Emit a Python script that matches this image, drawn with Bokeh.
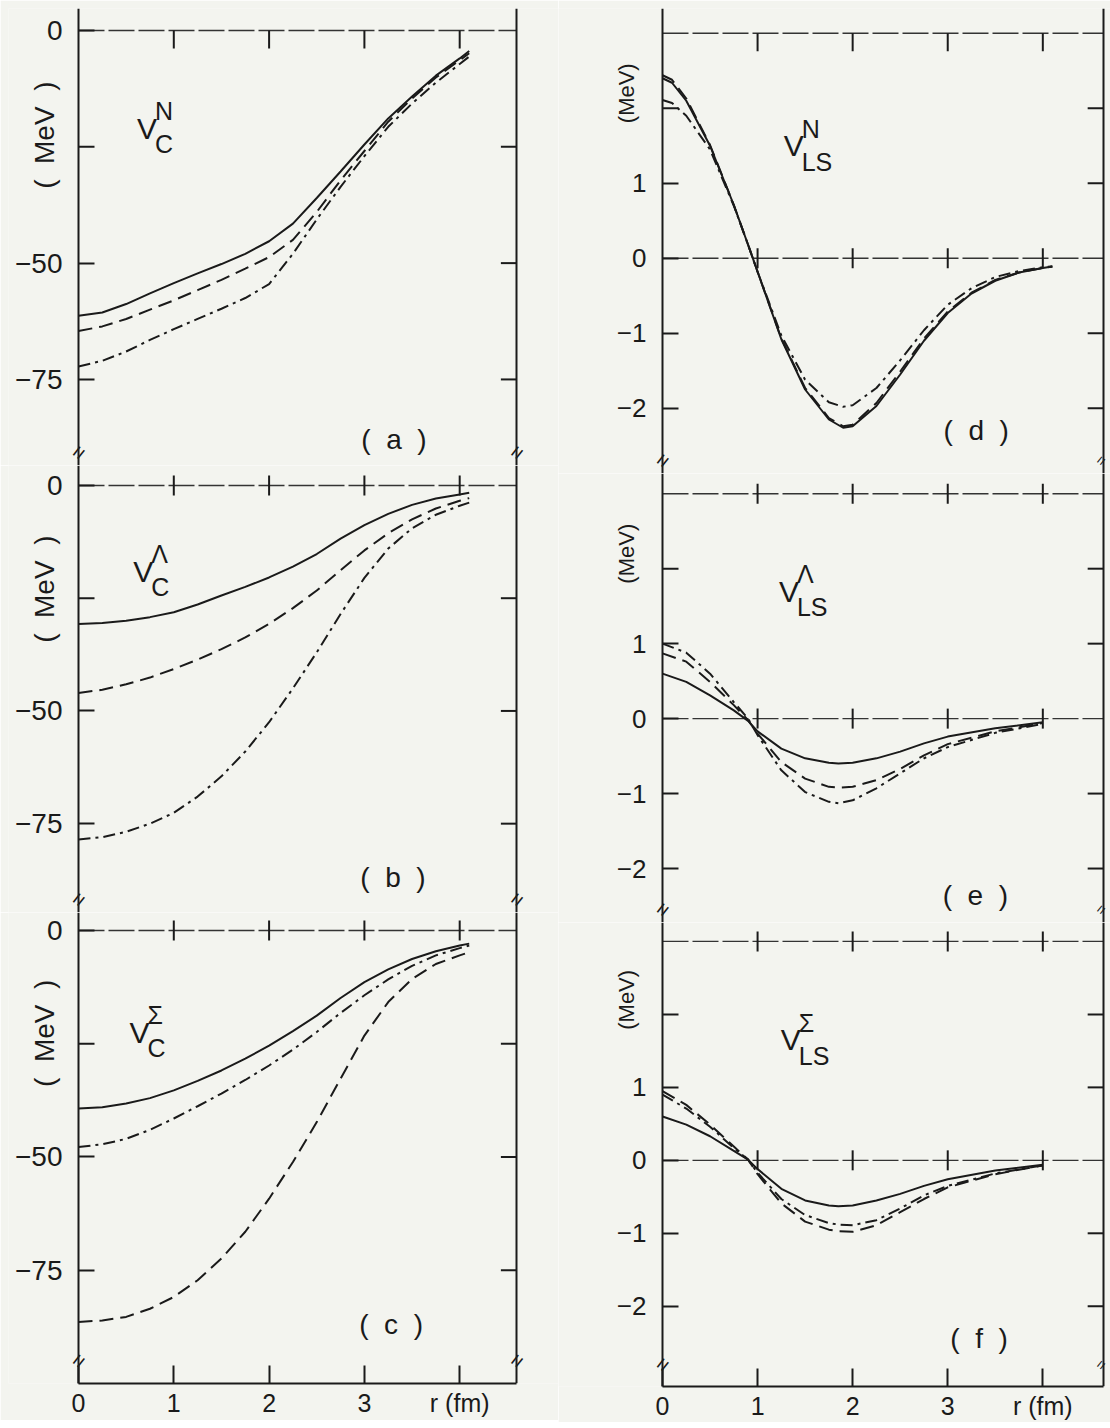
import math
from bokeh.plotting import figure
from bokeh.layouts import row, column
from bokeh.models import Range1d, LinearAxis, FixedTicker, Label
from bokeh.embed import file_html
from bokeh.resources import INLINE

# ---------------- data ----------------
# radius grid for the central potentials V_C  (fm)
R_C = [0, 0.25, 0.5, 0.75, 1.0, 1.25, 1.5, 1.75, 2.0, 2.25, 2.5, 2.75, 3.0, 3.25, 3.5, 3.75, 4.0, 4.1]
# (a) V_C^N  (MeV)
VC_N_SOLID   = [-61.3, -60.6, -58.8, -56.5, -54.3, -52.2, -50.2, -48.0, -45.3, -41.5, -36.0, -30.3, -24.5, -18.9, -14.2, -9.7, -6.0, -4.4]
VC_N_DASHED  = [-64.6, -63.6, -62.0, -60.0, -58.0, -55.8, -53.6, -51.2, -48.7, -45.0, -39.0, -32.2, -25.9, -19.6, -14.6, -10.1, -6.4, -4.9]
VC_N_DASHDOT = [-72.2, -71.0, -69.0, -66.5, -64.2, -62.0, -59.8, -57.5, -54.5, -48.0, -40.6, -33.6, -27.0, -20.7, -15.7, -11.2, -7.2, -5.6]
# (b) V_C^Lambda
VC_L_SOLID   = [-30.7, -30.5, -30.0, -29.2, -28.1, -26.4, -24.4, -22.5, -20.4, -18.0, -15.2, -11.8, -8.8, -6.3, -4.3, -2.9, -2.0, -1.6]
VC_L_DASHED  = [-46.0, -45.3, -44.1, -42.6, -40.7, -38.6, -36.3, -33.7, -30.7, -27.2, -23.3, -18.8, -14.4, -10.6, -7.5, -5.1, -3.4, -2.8]
VC_L_DASHDOT = [-78.5, -78.0, -76.8, -75.0, -72.6, -69.0, -64.5, -59.0, -52.5, -45.0, -37.0, -28.5, -20.5, -14.0, -9.5, -6.5, -4.5, -3.8]
# (c) V_C^Sigma
VC_S_SOLID   = [-39.3, -39.0, -38.2, -37.0, -35.3, -33.2, -30.9, -28.3, -25.4, -22.2, -18.8, -14.9, -11.4, -8.6, -6.3, -4.6, -3.3, -2.9]
VC_S_DASHED  = [-86.4, -86.1, -85.3, -83.5, -80.9, -77.2, -72.4, -66.5, -59.2, -51.1, -42.3, -32.7, -23.2, -15.8, -10.7, -7.4, -5.5, -4.8]
VC_S_DASHDOT = [-47.8, -47.2, -46.0, -44.0, -41.5, -38.8, -36.0, -33.0, -29.8, -26.3, -22.4, -18.2, -14.3, -10.8, -7.8, -5.5, -3.9, -3.3]

# (d) V_LS^N
R_D = [0, 0.1, 0.25, 0.5, 0.75, 0.9, 1.0, 1.25, 1.5, 1.75, 1.9, 2.0, 2.25, 2.5, 2.75, 3.0, 3.25, 3.5, 3.75, 4.0, 4.1]
VLS_N_SOLID   = [2.40, 2.34, 2.10, 1.50, 0.71, 0.18, -0.18, -1.08, -1.75, -2.15, -2.26, -2.24, -1.97, -1.55, -1.10, -0.73, -0.47, -0.30, -0.19, -0.13, -0.11]
VLS_N_DASHED  = [2.44, 2.38, 2.13, 1.51, 0.71, 0.18, -0.18, -1.07, -1.73, -2.13, -2.24, -2.22, -1.93, -1.51, -1.07, -0.71, -0.46, -0.29, -0.19, -0.13, -0.11]
VLS_N_DASHDOT = [2.11, 2.07, 1.90, 1.45, 0.70, 0.18, -0.18, -1.03, -1.62, -1.92, -1.98, -1.96, -1.73, -1.36, -0.96, -0.62, -0.40, -0.25, -0.17, -0.12, -0.11]
# (e) V_LS^Lambda and (f) V_LS^Sigma
R_EF = [0, 0.25, 0.5, 0.75, 0.9, 1.0, 1.25, 1.5, 1.75, 1.85, 2.0, 2.25, 2.5, 2.75, 3.0, 3.5, 4.0]
VLS_L_SOLID   = [0.60, 0.49, 0.31, 0.11, -0.03, -0.17, -0.40, -0.53, -0.59, -0.60, -0.59, -0.53, -0.44, -0.33, -0.24, -0.13, -0.05]
VLS_L_DASHED  = [0.87, 0.76, 0.49, 0.18, -0.02, -0.20, -0.58, -0.80, -0.91, -0.92, -0.91, -0.82, -0.67, -0.49, -0.34, -0.17, -0.06]
VLS_L_DASHDOT = [1.00, 0.88, 0.60, 0.22, 0.00, -0.22, -0.69, -0.98, -1.11, -1.13, -1.09, -0.93, -0.73, -0.53, -0.38, -0.19, -0.07]
VLS_S_SOLID   = [0.60, 0.49, 0.33, 0.13, 0.01, -0.12, -0.39, -0.55, -0.62, -0.63, -0.62, -0.55, -0.46, -0.35, -0.26, -0.14, -0.06]
VLS_S_DASHED  = [0.95, 0.76, 0.49, 0.19, 0.01, -0.19, -0.59, -0.84, -0.95, -0.97, -0.98, -0.89, -0.71, -0.53, -0.37, -0.19, -0.07]
VLS_S_DASHDOT = [0.90, 0.71, 0.46, 0.17, 0.01, -0.17, -0.53, -0.75, -0.86, -0.88, -0.89, -0.82, -0.66, -0.48, -0.35, -0.18, -0.07]

# ticks and tick labels
X_TICKS = [1, 2, 3, 4]
X_AXIS_TICKS = [0, 1, 2, 3, 4]
X_AXIS_OVERRIDES = {4: "r (fm)"}
C_LABELED = [0, -50, -75]
C_UNLABELED = [-25]
C_RIGHT = [-25, -50, -75]
LS_LABELED = [1, 0, -1, -2]
LS_UNLABELED = [2]
LS_RIGHT = [2, 1, -1, -2]

# ---------------- styling ----------------
BG = "#f3f4ef"
INK = "#1a1a1a"
FONT = "Liberation Sans"
TICK = 16
DASHED = "14 7"
DASHDOT = "12 5 3 5"
NB = "\u00a0"
PAGE_PAD = 8


def make_panel(off, ppx, amax, fw, yr, fh, mbl, mbt, mbb, bottom, labeled, unlabeled, right_ticks, lab_size):
    """off: pixels from frame left to the r=0 axis; ppx: pixels per fm; amax: r of right border."""
    x0 = -off / ppx
    x1 = (fw - off) / ppx
    p = figure(x_range=Range1d(x0, x1), y_range=Range1d(yr[0], yr[1]),
               frame_width=fw, frame_height=fh,
               min_border_left=mbl, min_border_right=0,
               min_border_top=mbt, min_border_bottom=mbb,
               x_axis_location=None, y_axis_location=None,
               output_backend="svg", toolbar_location=None,
               background_fill_color=BG, border_fill_color=BG,
               outline_line_color=None)
    p.grid.visible = False
    ya = LinearAxis(fixed_location=0, ticker=FixedTicker(ticks=labeled),
                    major_tick_in=TICK, major_tick_out=0, minor_tick_in=0, minor_tick_out=0,
                    axis_line_width=2, axis_line_color=INK,
                    major_tick_line_width=2, major_tick_line_color=INK,
                    major_label_standoff=16, major_label_text_font=FONT,
                    major_label_text_font_size=lab_size, major_label_text_color=INK)
    p.add_layout(ya, "left")
    ra = LinearAxis(fixed_location=amax, ticker=FixedTicker(ticks=[]),
                    major_tick_in=0, major_tick_out=0, minor_tick_in=0, minor_tick_out=0,
                    axis_line_width=2, axis_line_color=INK, major_label_standoff=0)
    p.add_layout(ra, "right")
    if bottom:
        xa = LinearAxis(ticker=FixedTicker(ticks=X_AXIS_TICKS), bounds=(0, amax),
                        major_label_overrides=X_AXIS_OVERRIDES,
                        major_tick_in=18, major_tick_out=0, minor_tick_in=0, minor_tick_out=0,
                        axis_line_width=2, axis_line_color=INK,
                        major_tick_line_width=2, major_tick_line_color=INK,
                        major_label_standoff=5, major_label_text_font=FONT,
                        major_label_text_font_size="25px", major_label_text_color=INK)
        p.add_layout(xa, "below")
    ppy = fh / (yr[1] - yr[0])
    dx = TICK / ppx
    if unlabeled:
        p.segment(x0=[0] * len(unlabeled), y0=unlabeled, x1=[dx] * len(unlabeled), y1=unlabeled,
                  line_color=INK, line_width=2)
    p.segment(x0=[amax - dx] * len(right_ticks), y0=right_ticks, x1=[amax] * len(right_ticks),
              y1=right_ticks, line_color=INK, line_width=2)
    p._ppy = ppy
    p._amax = amax
    return p


def ref_line(p, loc, ticks_mode):
    p.segment(x0=[0], y0=[loc], x1=[p._amax], y1=[loc], line_color="#333333",
              line_width=1.3, line_dash="26 4")
    n = len(X_TICKS)
    if ticks_mode == "down":
        d = 18 / p._ppy
        p.segment(x0=X_TICKS, y0=[loc] * n, x1=X_TICKS, y1=[loc - d] * n, line_color=INK, line_width=2)
    else:
        d = 10 / p._ppy
        p.segment(x0=X_TICKS, y0=[loc - d] * n, x1=X_TICKS, y1=[loc + d] * n, line_color=INK, line_width=2)


def curves(p, r, solid, dashed, dashdot):
    p.line(r, solid, line_color=INK, line_width=2)
    p.line(r, dashed, line_color=INK, line_width=2, line_dash=DASHED)
    p.line(r, dashdot, line_color=INK, line_width=2, line_dash=DASHDOT)


def txt(p, x, y, s, size, align="center", **kw):
    p.add_layout(Label(x=x, y=y, text=s, text_font=FONT, text_font_size=size,
                       text_align=align, text_baseline="middle", text_color=INK, **kw))


def vlabel(p, x, y, sup, sub):
    txt(p, x, y, "V", "30px")
    txt(p, x, y, sup, "25px", align="left", x_offset=8, y_offset=17)
    txt(p, x, y, sub, "25px", align="left", x_offset=8, y_offset=-16)


def breaks(p, y, right_edge_tight=False):
    txt(p, 0, y, "=", "22px", angle=0.9)
    if right_edge_tight:
        txt(p, p._amax, y, "=", "15px", angle=0.9, x_offset=-3)
    else:
        txt(p, p._amax, y, "=", "22px", angle=0.9)


def panel_tag(p, x, y, letter):
    txt(p, x, y, "(" + NB * 2 + letter + NB * 2 + ")", "28px")


# ---------------- left column: central potentials ----------------
L_OFF, L_PPX, L_MAX, L_FW = 70, 95.3, 4.6, 550
MEV_L = "(" + NB * 2 + "MeV" + NB * 2 + ")"

pa = make_panel(L_OFF, L_PPX, L_MAX, L_FW, (-93.5, 4.73), 457, PAGE_PAD, PAGE_PAD, 0, False,
                C_LABELED, C_UNLABELED, C_RIGHT, "28px")
ref_line(pa, 0, "down")
curves(pa, R_C, VC_N_SOLID, VC_N_DASHED, VC_N_DASHDOT)
vlabel(pa, 0.72, -21, "N", "C")
panel_tag(pa, 3.31, -88, "a")
txt(pa, -0.36, -22.5, MEV_L, "28px", angle=math.pi / 2)
breaks(pa, -93.5 + 13 / pa._ppy)

pb = make_panel(L_OFF, L_PPX, L_MAX, L_FW, (-94.7, 4.43), 447, PAGE_PAD, 0, 0, False,
                C_LABELED, C_UNLABELED, C_RIGHT, "28px")
ref_line(pb, 0, "cross")
curves(pb, R_C, VC_L_SOLID, VC_L_DASHED, VC_L_DASHDOT)
vlabel(pb, 0.68, -19, "\u039b", "C")
panel_tag(pb, 3.3, -87, "b")
txt(pb, -0.36, -23, MEV_L, "28px", angle=math.pi / 2)
breaks(pb, -94.7 + 13 / pb._ppy)

pc = make_panel(L_OFF, L_PPX, L_MAX, L_FW, (-100.0, 3.97), 471, PAGE_PAD, 0, 37, True,
                C_LABELED, C_UNLABELED, C_RIGHT, "28px")
ref_line(pc, 0, "cross")
curves(pc, R_C, VC_S_SOLID, VC_S_DASHED, VC_S_DASHDOT)
vlabel(pc, 0.64, -22.5, "\u03a3", "C")
panel_tag(pc, 3.28, -87, "c")
txt(pc, -0.36, -22.7, MEV_L, "28px", angle=math.pi / 2)
breaks(pc, -95)

# ---------------- right column: spin-orbit potentials ----------------
R_OFF, R_PPX, R_MAX, R_FW = 104, 95.08, 4.64, 552
MEV_R = "(MeV)"

pd = make_panel(R_OFF, R_PPX, R_MAX, R_FW, (-2.87, 3.33), 465, 0, PAGE_PAD, 0, False,
                LS_LABELED, LS_UNLABELED, LS_RIGHT, "26px")
ref_line(pd, 3, "down")
ref_line(pd, 0, "cross")
curves(pd, R_D, VLS_N_SOLID, VLS_N_DASHED, VLS_N_DASHDOT)
vlabel(pd, 1.38, 1.5, "N", "LS")
panel_tag(pd, 3.3, -2.3, "d")
txt(pd, -0.38, 2.2, MEV_R, "22px", angle=math.pi / 2)
breaks(pd, -2.87 + 13 / pd._ppy, True)

pe = make_panel(R_OFF, R_PPX, R_MAX, R_FW, (-2.72, 3.27), 449, 0, 0, 0, False,
                LS_LABELED, LS_UNLABELED, LS_RIGHT, "26px")
ref_line(pe, 3, "cross")
ref_line(pe, 0, "cross")
curves(pe, R_EF, VLS_L_SOLID, VLS_L_DASHED, VLS_L_DASHDOT)
vlabel(pe, 1.33, 1.7, "\u039b", "LS")
panel_tag(pe, 3.29, -2.36, "e")
txt(pe, -0.38, 2.2, MEV_R, "22px", angle=math.pi / 2)
breaks(pe, -2.72 + 13 / pe._ppy, True)

pf = make_panel(R_OFF, R_PPX, R_MAX, R_FW, (-3.1, 3.26), 464, 0, 0, 34, True,
                LS_LABELED, LS_UNLABELED, LS_RIGHT, "26px")
ref_line(pf, 3, "cross")
ref_line(pf, 0, "cross")
curves(pf, R_EF, VLS_S_SOLID, VLS_S_DASHED, VLS_S_DASHDOT)
vlabel(pf, 1.35, 1.65, "\u03a3", "LS")
panel_tag(pf, 3.33, -2.44, "f")
txt(pf, -0.38, 2.2, MEV_R, "22px", angle=math.pi / 2)
breaks(pf, -2.8, True)

layout = row(column(pa, pb, pc), column(pd, pe, pf))

html = file_html(layout, INLINE, title="Potentials")
html = html.replace("<body>", '<body style="background-color:#f3f4ef;">', 1)
with open("out.html", "w") as f:
    f.write(html)
